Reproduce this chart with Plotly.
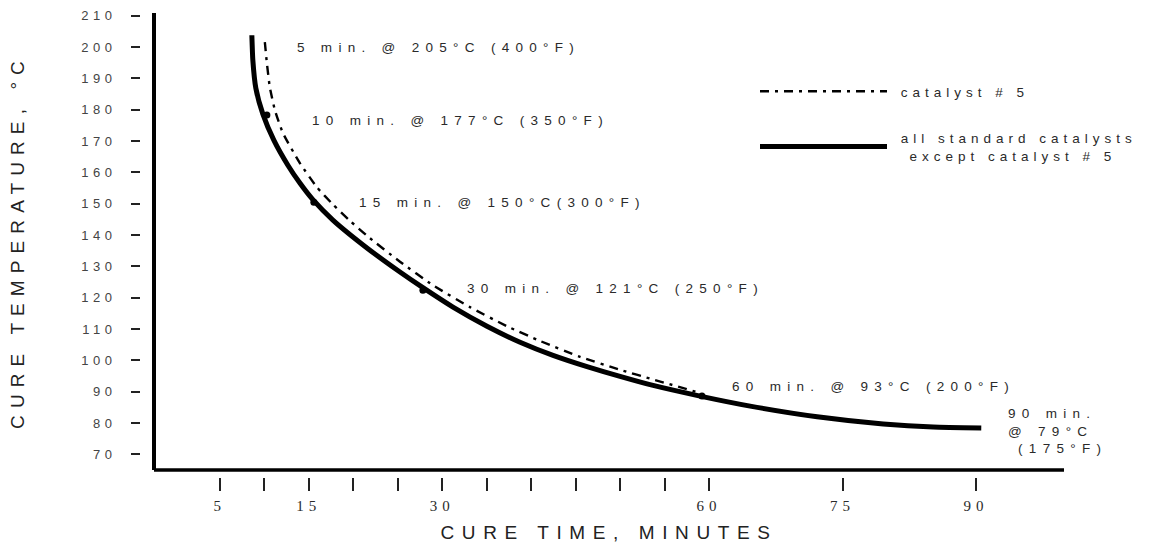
import plotly.graph_objects as go

# ---------------- data ----------------
# all standard catalysts except catalyst #5 (solid line)
std_time = [8.60, 8.71, 9.05, 9.84, 11.07, 12.65, 14.0, 15.46, 17.71, 21.54, 25.25,
            27.83, 31.21, 35.03, 38.75, 42.46, 46.28, 49.99, 53.71, 58.99, 64.62,
            72.15, 79.58, 85.2, 90.6]
std_temp = [203.8, 195.9, 186.9, 178.6, 170.3, 162.3, 156.6, 151.3, 144.8, 135.9, 128.2,
            123.2, 117.0, 110.9, 105.8, 101.6, 98.0, 94.9, 92.0, 88.6, 85.4,
            82.0, 79.7, 78.7, 78.4]
# catalyst #5 (dash-dot line)
cat5_time = [10.06, 10.29, 10.62, 11.19, 12.09, 14.0, 15.91, 17.71, 19.62, 21.54, 25.25,
             28.96, 33.12, 37.28, 41.0, 45.5, 50.0, 53.7, 58.99]
cat5_temp = [201.6, 194.9, 187.2, 179.9, 172.6, 163.0, 155.3, 149.8, 144.6, 139.8, 131.5,
             124.0, 117.0, 110.9, 106.2, 101.1, 97.0, 93.9, 89.6]
# marked points on the curve
dot_time = [10.29, 15.57, 27.83, 59.2]
dot_temp = [178.3, 150.5, 122.4, 88.6]

# point labels
point_labels = ["5 min. @ 205°C (400°F)",
                "10 min. @ 177°C (350°F)",
                "15 min. @ 150°C(300°F)",
                "30 min. @ 121°C (250°F)",
                "60 min. @ 93°C (200°F)",
                ["90 min.", "@ 79°C", "\u00a0(175°F)"]]

# axis ticks
y_ticks = [70, 80, 90, 100, 110, 120, 130, 140, 150, 160, 170, 180, 190, 200, 210]
x_ticks = [5, 10, 15, 20, 25, 30, 35, 40, 45, 50, 55, 60, 75, 90]
x_tick_text = ["5", "", "15", "", "", "30", "", "", "", "", "", "60", "75", "90"]

series_names = ["\u00a0catalyst # 5",
                ["\u00a0all standard catalysts", "\u00a0\u00a0except catalyst # 5"]]
x_title = "CURE TIME, MINUTES"
y_title = "CURE TEMPERATURE, °C"


def spaced(text, px):
    if isinstance(text, list):
        return "<br>".join(spaced(t, px) for t in text)
    return f'<span style="letter-spacing:{px}px">{text}</span>'


SANS = "Liberation Sans, Arial, sans-serif"
SERIF = "Liberation Serif, Times New Roman, serif"
TXT = "#2a2a2a"

fig = go.Figure()

fig.add_trace(go.Scatter(
    x=cat5_time, y=cat5_temp, mode="lines",
    name=spaced(series_names[0], 5), legendgroup="a",
    line=dict(color="black", width=2.4, dash="9px,6px,3px,6px", shape="spline", smoothing=0.5),
))
fig.add_trace(go.Scatter(
    x=std_time, y=std_temp, mode="lines",
    name=spaced(series_names[1], 5), legendgroup="b",
    line=dict(color="black", width=5, shape="spline", smoothing=0.5),
))
fig.add_trace(go.Scatter(
    x=dot_time, y=dot_temp, mode="markers", showlegend=False,
    marker=dict(color="black", size=7),
))

# point labels
label_pos = [(13.4, 200.0), (15.1, 176.7), (20.4, 150.5), (32.6, 122.8), (62.4, 91.5), (93.4, 77.5)]
for text, (px, py) in zip(point_labels, label_pos):
    fig.add_annotation(x=px, y=py, xref="x", yref="y", text=spaced(text, 6.3),
                       showarrow=False, xanchor="left", yanchor="middle", align="left",
                       font=dict(family=SANS, size=13.5, color=TXT))

# axis lines (drawn at the plot area edges)
fig.add_shape(type="line", xref="x domain", yref="y domain", x0=0, x1=0, y0=0, y1=1,
              line=dict(color="black", width=4))
fig.add_shape(type="line", xref="x domain", yref="y domain", x0=0, x1=1, y0=0, y1=0,
              line=dict(color="black", width=3.5))

W, H = 1150, 549
ml, mr, mt, mb = 140, 86, 13, 72
pw = W - ml - mr
ph = H - mt - mb

fig.update_layout(
    width=W, height=H,
    margin=dict(l=ml, r=mr, t=mt, b=mb, autoexpand=False),
    paper_bgcolor="white", plot_bgcolor="white",
    showlegend=True,
    legend=dict(x=(755 - ml) / pw, y=(H - mb - 76) / ph, xanchor="left", yanchor="top",
                itemwidth=127, tracegroupgap=26, traceorder="grouped",
                font=dict(family=SANS, size=13.5, color=TXT), bgcolor="rgba(0,0,0,0)"),
    xaxis=dict(
        domain=[(154 - ml) / pw, 1], range=[-2.4, 99.9],
        anchor="free", position=0, automargin=False,
        showgrid=False, zeroline=False, showline=False,
        tickmode="array", tickvals=x_ticks, ticktext=[spaced(t, 5) for t in x_tick_text],
        ticks="outside", ticklen=13, tickwidth=1.5, tickcolor="#222",
        ticklabelstandoff=2,
        tickfont=dict(family=SERIF, size=15, color=TXT),
        title=dict(text=spaced(x_title, 7.6), font=dict(family=SANS, size=19, color="#222"), standoff=12),
    ),
    yaxis=dict(
        domain=[(477 - 470) / ph, 1], range=[65, 210.9],
        anchor="free", position=0, automargin=False,
        showgrid=False, zeroline=False, showline=False,
        tickmode="array", tickvals=y_ticks, ticktext=[spaced(str(v), 4.5) for v in y_ticks],
        ticks="outside", ticklen=9, tickwidth=1.6, tickcolor="#222",
        ticklabelstandoff=12,
        tickfont=dict(family=SANS, size=13, color="#444"),
        title=dict(text=spaced(y_title, 7.1), font=dict(family=SANS, size=19, color="#222"), standoff=50),
    ),
)

fig.write_html("out.html", config={"displayModeBar": False},
               post_script="document.body.style.margin='0';")
